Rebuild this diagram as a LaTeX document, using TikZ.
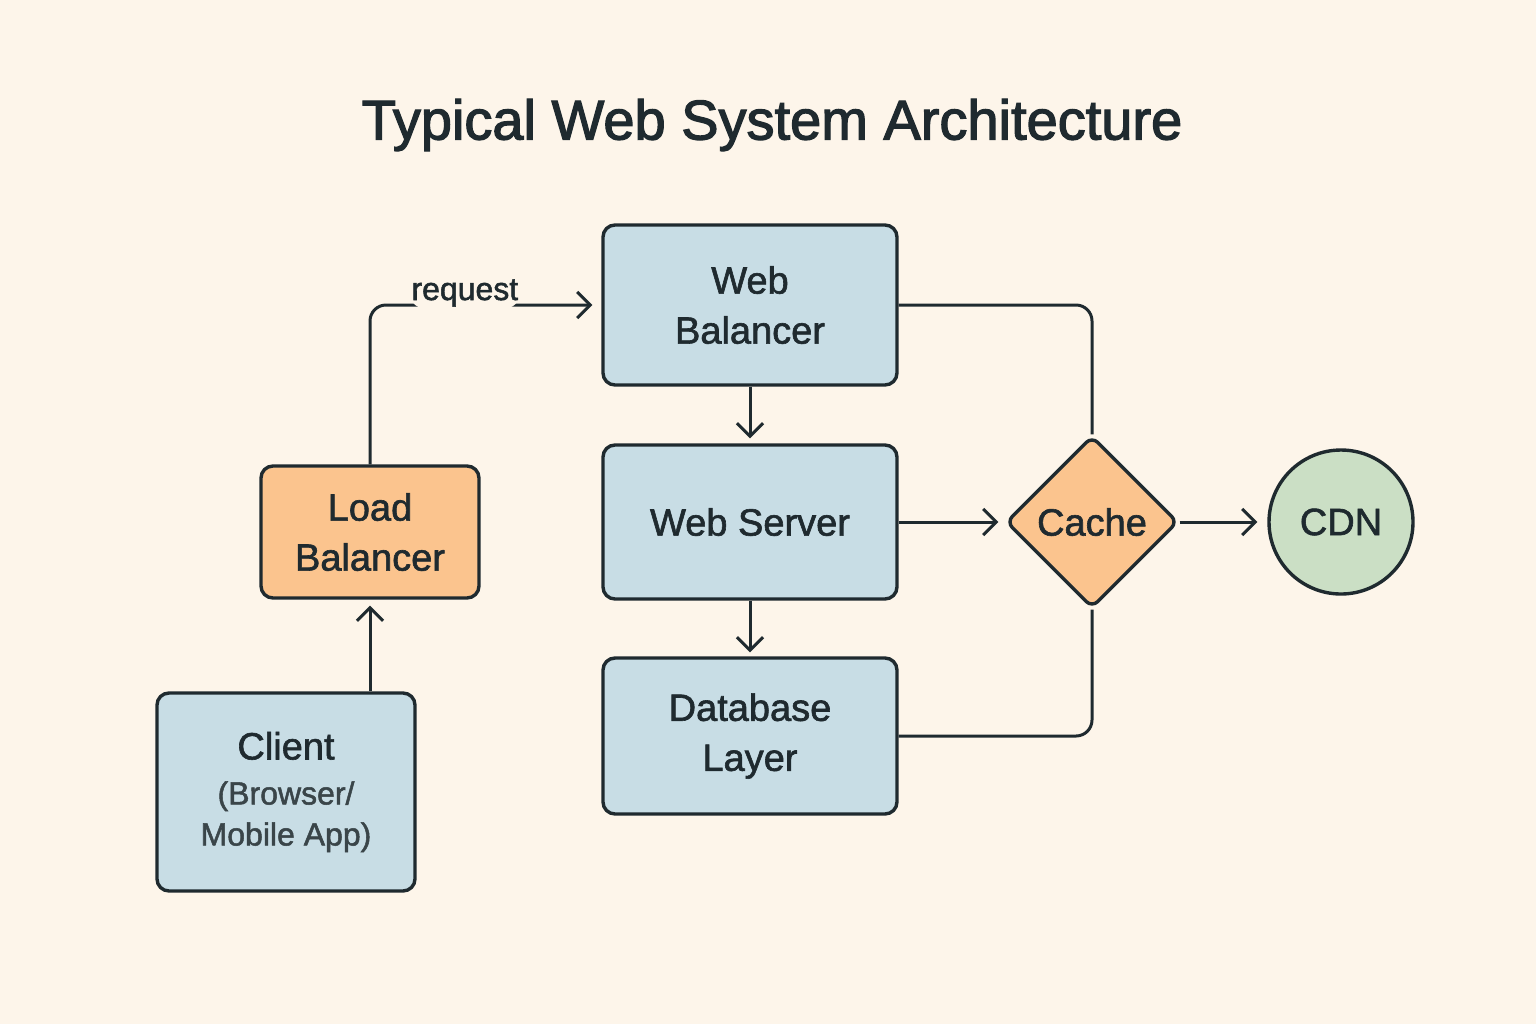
\documentclass[tikz,border=0pt]{standalone}
\usepackage{fontspec}
\setmainfont{Liberation Sans}
\newfontfamily\medfont[FakeBold=1.6]{Liberation Sans}
\newfontfamily\headfont[FakeBold=2.2]{Liberation Sans}
\usetikzlibrary{shapes.geometric,arrows.meta}
\definecolor{bg}{HTML}{FDF5EA}
\definecolor{ink}{HTML}{1F2A2F}
\definecolor{boxblue}{HTML}{C8DDE5}
\definecolor{boxorange}{HTML}{FBC48E}
\definecolor{boxgreen}{HTML}{CBDFC5}
\definecolor{subink}{HTML}{3A4549}
\tikzset{
  box/.style={draw=ink, line width=1.7pt, rounded corners=6pt, fill=boxblue,
    align=center, text=ink, font=\medfont\fontsize{19}{25}\selectfont},
  link/.style={draw=ink, line width=1.5pt, rounded corners=8pt},
  tip/.style={-{Straight Barb[length=6.5pt,width=13pt,line width=1.5pt]}}
}
\begin{document}
\begin{tikzpicture}[x=0.5pt,y=-0.5pt]
  \fill[bg] (0,0) rectangle (1536,1024);
  \node[text=ink, font=\headfont\fontsize{28}{34}\selectfont] (title) at (772,125) {Typical Web System Architecture};
  \def \Boxes{
    webbal/750/305/80/Web\\Balancer,
    websrv/750/522/77/Web Server,
    db/750/736/78/Database\\Layer}
  \foreach \id / \x / \y / \h / \lb in \Boxes{
    \node[box, minimum width=147pt, minimum height=\h pt] (\id) at (\x, \y) {\lb};
  }
  \node[box, fill=boxorange, minimum width=109pt, minimum height=66pt] (lb) at (370,532) {Load\\Balancer};
  \node[box, minimum width=129pt, minimum height=99pt] (client) at (286,792)
    {Client\\[-2.5pt]{\fontsize{16}{20.5}\selectfont\color{subink}(Browser/}\\[-4.5pt]
     {\fontsize{16}{20.5}\selectfont\color{subink}Mobile App)}};
  \node[box, diamond, rounded corners=4pt, fill=boxorange, inner sep=0pt,
    minimum width=86pt, minimum height=86pt] (cache) at (1092,522) {Cache};
  \node[box, circle, fill=boxgreen, inner sep=0pt, minimum size=72pt] (cdn) at (1341,522) {CDN};
  % connectors
  \path[link, tip, shorten >=3pt] (client.north -| lb.south) -- (lb.south);
  \path[link, tip, shorten >=4.5pt] (lb.north) |- (webbal.west)
    node[pos=0.705, fill=bg, inner sep=1pt, yshift=6pt, text=ink,
      font=\medfont\fontsize{16}{18}\selectfont] (req) {request};
  \path[link, tip, shorten >=2.5pt] (webbal) -- (websrv);
  \path[link, tip, shorten >=2pt] (websrv) -- (db);
  \path[link, tip, shorten >=3pt] (websrv) -- (cache);
  \path[link, tip, shorten >=5pt] (cache) -- (cdn);
  \path[link] (webbal.east) -| (cache.north);
  \path[link] (db.east) -| (cache.south);
\end{tikzpicture}
\end{document}
